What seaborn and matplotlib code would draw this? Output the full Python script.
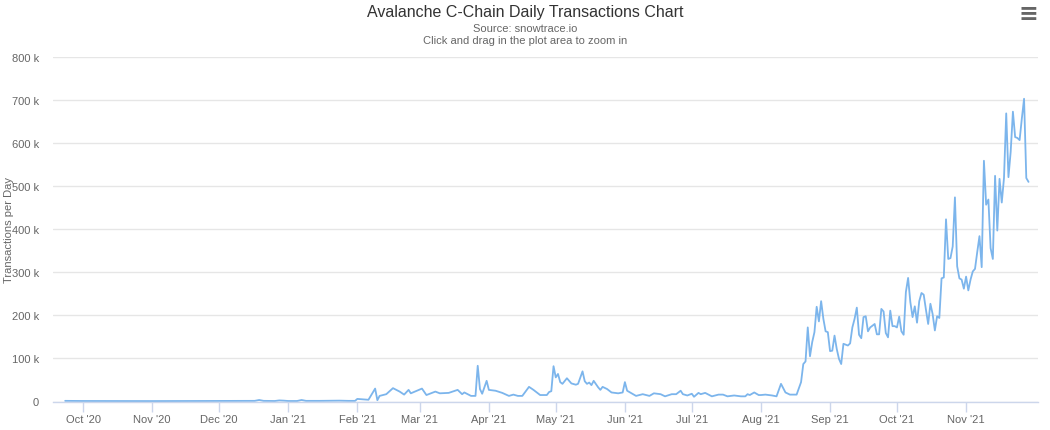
import pandas as pd
import matplotlib.pyplot as plt
from matplotlib.ticker import FuncFormatter, MultipleLocator
import matplotlib.dates as mdates
import seaborn as sns

# --- DATA (transactions per day, in thousands) ---
early_dates = [
    "2020-09-23", "2020-10-01", "2020-10-15", "2020-11-01", "2020-11-15", "2020-12-01",
    "2020-12-15", "2020-12-17", "2020-12-19", "2020-12-21", "2020-12-26", "2020-12-28",
    "2020-12-30", "2021-01-01", "2021-01-05", "2021-01-07", "2021-01-09", "2021-01-15",
    "2021-01-24", "2021-01-28", "2021-01-31", "2021-02-01", "2021-02-06", "2021-02-09",
    "2021-02-10", "2021-02-11", "2021-02-14", "2021-02-17", "2021-02-20", "2021-02-22",
    "2021-02-24", "2021-02-25", "2021-03-02", "2021-03-04", "2021-03-08", "2021-03-10",
    "2021-03-14", "2021-03-18", "2021-03-20", "2021-03-21", "2021-03-24", "2021-03-26",
    "2021-03-27", "2021-03-28", "2021-03-29", "2021-03-31", "2021-04-01", "2021-04-04",
    "2021-04-07", "2021-04-10", "2021-04-12", "2021-04-14", "2021-04-16", "2021-04-19",
    "2021-04-21", "2021-04-24", "2021-04-27", "2021-04-28", "2021-04-29", "2021-04-30",
    "2021-05-01", "2021-05-02", "2021-05-03", "2021-05-04", "2021-05-06", "2021-05-08",
    "2021-05-10", "2021-05-11", "2021-05-13", "2021-05-14", "2021-05-15", "2021-05-16",
    "2021-05-17", "2021-05-18", "2021-05-20", "2021-05-21", "2021-05-22", "2021-05-24",
    "2021-05-26", "2021-05-29", "2021-05-31", "2021-06-01", "2021-06-02", "2021-06-04",
    "2021-06-06", "2021-06-09", "2021-06-12", "2021-06-14", "2021-06-17", "2021-06-19",
    "2021-06-22", "2021-06-24", "2021-06-26", "2021-06-27", "2021-06-29", "2021-07-01",
    "2021-07-02", "2021-07-04", "2021-07-05", "2021-07-07", "2021-07-10", "2021-07-13",
    "2021-07-15", "2021-07-17", "2021-07-20", "2021-07-23", "2021-07-25", "2021-07-26",
    "2021-07-27", "2021-07-29", "2021-07-31", "2021-08-01", "2021-08-03", "2021-08-06",
    "2021-08-08", "2021-08-10", "2021-08-12", "2021-08-14", "2021-08-17",
]
early_tx_k = [
    1.5, 1.2, 1.0, 1.0, 1.2, 1.2,
    1.5, 1.5, 3.5, 1.5, 1.2, 2.5,
    2.0, 1.2, 1.2, 3.5, 1.5, 1.5,
    2.0, 1.5, 1.5, 6, 4, 30,
    3, 13, 17, 31, 23, 16,
    27, 19, 30, 15, 23, 19,
    20, 27, 17, 21, 13, 13,
    83, 29, 18, 48, 27, 25,
    20, 13, 16, 13, 13, 34,
    27, 15, 15, 22, 24, 82,
    56, 64, 45, 41, 54, 42,
    39, 41, 70, 47, 41, 44,
    38, 48, 33, 27, 34, 29,
    21, 19, 21, 45, 25, 19,
    13, 17, 13, 19, 17, 12,
    17, 17, 25, 17, 14, 18,
    11, 20, 17, 20, 12, 16,
    16, 12, 14, 12, 12, 17,
    15, 21, 15, 15, 16, 14,
    12, 41, 21, 16, 16,
]

# dzienne wartosci od 2021-08-19
late_start = "2021-08-19"
late_tx_k = [
    45, 87, 93, 172, 105, 138, 161, 220, 186, 233, 192, 163, 161,
    117, 118, 153, 122, 99, 87, 134, 132, 130, 135,
    172, 192, 218, 155, 147, 196, 198, 163, 172, 176,
    180, 156, 156, 215, 209, 159, 149, 211, 175, 175,
    172, 197, 163, 155, 254, 287, 231, 196, 221, 183,
    233, 252, 248, 213, 180, 227, 203, 165, 198, 194,
    286, 288, 423, 331, 333, 360, 474, 314, 286, 283, 262,
    290, 258, 283, 302, 308, 347, 384, 312, 559, 457,
    469, 356, 331, 524, 397, 517, 462, 519, 669, 521,
    580, 673, 614, 612, 607, 657, 703, 519, 510,
]

month_ticks = pd.date_range("2020-10-01", "2021-11-01", freq="MS")

TITLE = "Avalanche C-Chain Daily Transactions Chart"
SOURCE = "Source: snowtrace.io"
HINT = "Click and drag in the plot area to zoom in"
Y_TITLE = "Transactions per Day"

LINE_COLOR = "#7cb5ec"
GRID_COLOR = "#e6e6e6"
AXIS_COLOR = "#ccd6eb"
LABEL_COLOR = "#666666"

sns.set_theme(style="white")
plt.rcParams['font.family'] = ['Liberation Sans Narrow', 'Liberation Sans', 'DejaVu Sans']

early = pd.DataFrame({'Date': pd.to_datetime(early_dates), 'Tx': early_tx_k})
late = pd.DataFrame({'Date': pd.date_range(late_start, periods=len(late_tx_k), freq='D'),
                     'Tx': late_tx_k})
df = pd.concat([early, late], ignore_index=True)
df['Tx'] = df['Tx'] * 1000

W, H = 1050, 431
fig = plt.figure(figsize=(W / 100, H / 100), dpi=100)
ax = fig.add_axes([53 / W, 1 - 402.5 / H, (1038 - 53) / W, (402.5 - 58) / H])

sns.lineplot(data=df, x='Date', y='Tx', ax=ax, color=LINE_COLOR, linewidth=1.3)

ax.set_ylim(0, 800000)
ax.set_xlim(pd.Timestamp('2020-09-17 13:00'), pd.Timestamp('2021-12-03 06:00'))

# osie
ax.yaxis.set_major_locator(MultipleLocator(100000))
ax.yaxis.set_major_formatter(FuncFormatter(lambda v, p: "0" if v == 0 else f"{int(v / 1000)} k"))
ax.set_xticks(month_ticks)
ax.xaxis.set_major_formatter(mdates.DateFormatter("%b '%y"))

ax.yaxis.grid(True, color=GRID_COLOR, linewidth=1)
ax.xaxis.grid(False)
ax.set_axisbelow(True)
for side in ['top', 'left', 'right']:
    ax.spines[side].set_visible(False)
ax.spines['bottom'].set_color(AXIS_COLOR)
ax.spines['bottom'].set_linewidth(1)

ax.tick_params(axis='x', bottom=True, length=7, width=1, color=AXIS_COLOR,
               labelcolor=LABEL_COLOR, labelsize=8, pad=2)
ax.tick_params(axis='y', left=False, length=0, labelcolor=LABEL_COLOR, labelsize=8, pad=10)

ax.set_xlabel("")
ax.set_ylabel(Y_TITLE, color=LABEL_COLOR, fontsize=8)
ax.yaxis.set_label_coords((14 - 53) / 985, 0.5)

fig.text(0.5, 1 - 12 / H, TITLE, ha='center', va='center', fontsize=11.5, color='#333333')
fig.text(0.5, 1 - 29 / H, SOURCE, ha='center', va='center', fontsize=8, color=LABEL_COLOR)
fig.text(0.5, 1 - 41 / H, HINT, ha='center', va='center', fontsize=8, color=LABEL_COLOR)
fig.text(1028 / W, 1 - 14 / H, "\u2261", ha='center', va='center', fontsize=17,
         color=LABEL_COLOR, fontweight='bold', family='DejaVu Sans')

plt.savefig("out.png", dpi=100)
plt.close()
